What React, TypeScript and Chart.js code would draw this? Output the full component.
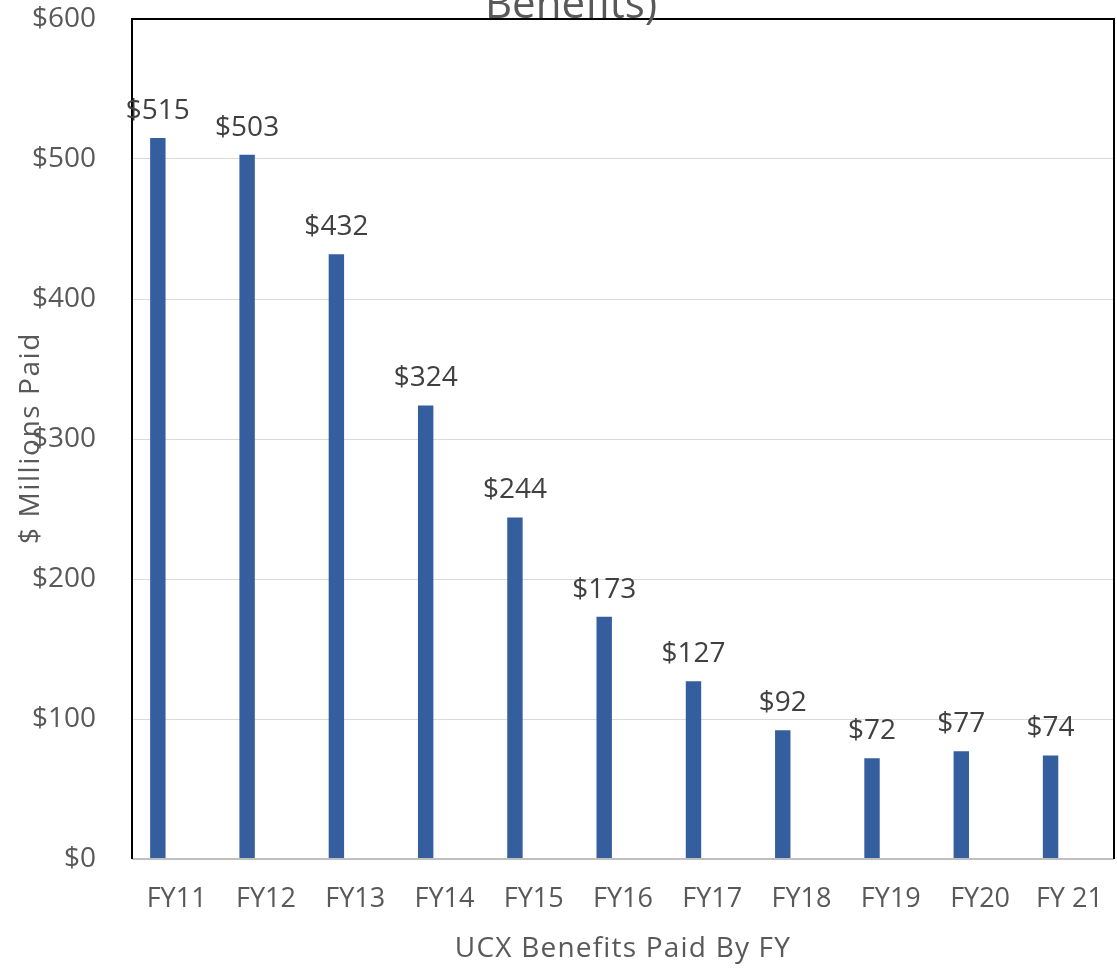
import React, { useEffect, useRef } from "react";
import { Chart, registerables } from "chart.js";

Chart.register(...registerables);

const categories = ["FY11", "FY12", "FY13", "FY14", "FY15", "FY16", "FY17", "FY18", "FY19", "FY20", "FY 21"];
const benefitsPaid = [515, 503, 432, 324, 244, 173, 127, 92, 72, 77, 74];
const emptySeries = categories.map(() => null);
const titleText = "Benefits)";
const yAxisTitle = "$ Millions Paid";
const xAxisTitle = "UCX Benefits Paid By FY";

const FONT = "'Open Sans', 'DejaVu Sans', sans-serif";
const TEXT = "#595959";

const overlay = {
  id: "overlay",
  afterDatasetsDraw(chart: any) {
    const { ctx, chartArea } = chart;
    const { left, top, right, bottom } = chartArea;
    ctx.save();
    // bottom axis line
    ctx.strokeStyle = "#bfbfbf";
    ctx.lineWidth = 2;
    ctx.beginPath();
    ctx.moveTo(left, bottom);
    ctx.lineTo(right, bottom);
    ctx.stroke();
    // black frame: left, top, right
    ctx.strokeStyle = "#000000";
    ctx.lineWidth = 2;
    ctx.beginPath();
    ctx.moveTo(left, bottom);
    ctx.lineTo(left, top);
    ctx.lineTo(right, top);
    ctx.lineTo(right, bottom);
    ctx.stroke();

    // data labels
    const meta = chart.getDatasetMeta(0);
    ctx.fillStyle = "#404040";
    ctx.font = `28px ${FONT}`;
    ctx.textAlign = "center";
    ctx.textBaseline = "alphabetic";
    meta.data.forEach((el: any, i: number) => {
      ctx.fillText("$" + benefitsPaid[i], el.x, el.y - 19);
    });

    // title (cut off at top)
    ctx.fillStyle = TEXT;
    ctx.font = `42px ${FONT}`;
    ctx.fillText(titleText, 571, 18);

    // x axis title
    ctx.font = `28px ${FONT}`;
    (ctx as any).letterSpacing = "1.2px";
    ctx.fillText(xAxisTitle, 623, 957);

    // y axis title
    (ctx as any).letterSpacing = "1.6px";
    ctx.translate(31, 438);
    ctx.rotate(-Math.PI / 2);
    ctx.textBaseline = "middle";
    ctx.fillText(yAxisTitle, 0, 0);
    (ctx as any).letterSpacing = "0px";
    ctx.restore();
  },
};

export default function App() {
  const ref = useRef<HTMLCanvasElement | null>(null);
  useEffect(() => {
    if (!ref.current) return;
    const chart = new Chart(ref.current, {
      type: "bar",
      data: {
        labels: categories,
        datasets: [
          {
            data: benefitsPaid,
            backgroundColor: "#355E9F",
            categoryPercentage: 0.842,
            barPercentage: 0.41,
          },
          {
            data: emptySeries as any,
            backgroundColor: "#ED7D31",
            categoryPercentage: 0.842,
            barPercentage: 0.41,
          },
        ],
      },
      options: {
        responsive: false,
        animation: false,
        layout: { padding: { top: 19, right: 3, left: 0, bottom: 0 } },
        plugins: {
          legend: { display: false },
          tooltip: { enabled: false },
          title: { display: false },
        },
        scales: {
          x: {
            grid: { display: false, drawTicks: false },
            border: { display: false },
            ticks: {
              color: TEXT,
              font: { family: FONT, size: 27 },
              padding: 24,
              maxRotation: 0,
              autoSkip: false,
            },
            afterFit(scale: any) {
              scale.height = 110;
              scale.paddingLeft = 0;
              scale.paddingRight = 0;
            },
          },
          y: {
            min: 0,
            max: 600,
            grid: {
              color: (c: any) => (c.tick && (c.tick.value === 0 || c.tick.value === 600) ? "rgba(0,0,0,0)" : "#d9d9d9"),
              lineWidth: 1,
              drawTicks: false,
            },
            border: { display: false },
            ticks: {
              stepSize: 100,
              color: TEXT,
              font: { family: FONT, size: 28 },
              padding: 36,
              callback: (v: any) => "$" + v,
            },
            afterFit(scale: any) {
              scale.width = 132;
              scale.paddingTop = 0;
              scale.paddingBottom = 0;
            },
          },
        },
      },
      plugins: [overlay],
    });
    return () => chart.destroy();
  }, []);

  return (
    <div style={{ position: "fixed", left: 0, top: 0, width: 1117, height: 969, background: "#fff" }}>
      <canvas ref={ref} width={1117} height={969} style={{ width: 1117, height: 969, display: "block" }} />
    </div>
  );
}
